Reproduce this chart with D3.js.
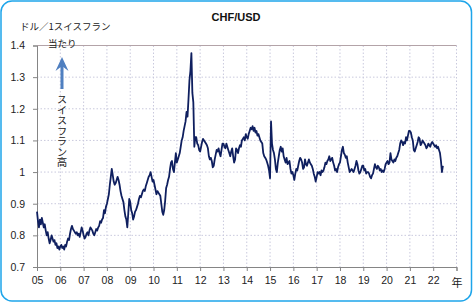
<!DOCTYPE html>
<html>
<head>
<meta charset="utf-8">
<script src="https://cdn.jsdelivr.net/npm/d3@7"></script>
<style>
  body { margin: 0; background: #fff; }
  svg text { font-family: "Liberation Sans", Arial, sans-serif; }
  .jp { font-family: "Noto Sans CJK JP", sans-serif; }
</style>
</head>
<body>
<div id="chart"></div>
<script>
// USD per 1 CHF, semi-monthly readings (24 per year)
const v2005 = [0.875,0.845,0.825,0.850,0.835,0.855,0.840,0.825,0.835,0.815,0.800,0.810,0.790,0.775,0.785,0.800,0.790,0.780,0.785,0.770,0.775,0.760,0.765,0.755];
const v2006 = [0.765,0.770,0.760,0.765,0.755,0.770,0.765,0.780,0.790,0.785,0.805,0.820,0.830,0.820,0.815,0.810,0.805,0.810,0.800,0.805,0.795,0.810,0.825,0.815];
const v2007 = [0.800,0.790,0.795,0.805,0.810,0.800,0.815,0.825,0.820,0.815,0.805,0.800,0.810,0.820,0.815,0.825,0.830,0.845,0.840,0.850,0.855,0.880,0.870,0.890];
const v2008 = [0.900,0.915,0.930,0.960,0.985,1.010,0.990,0.970,0.960,0.965,0.975,0.985,0.975,0.960,0.940,0.925,0.915,0.905,0.880,0.860,0.850,0.825,0.870,0.915];
const v2009 = [0.905,0.880,0.870,0.850,0.860,0.875,0.880,0.890,0.900,0.915,0.925,0.920,0.930,0.940,0.945,0.940,0.955,0.965,0.975,0.985,0.990,1.000,0.985,0.970];
const v2010 = [0.975,0.960,0.945,0.930,0.940,0.935,0.930,0.925,0.900,0.875,0.865,0.880,0.910,0.950,0.960,0.975,0.985,1.010,1.030,1.035,1.010,1.000,1.030,1.060];
const v2011 = [1.030,1.040,1.050,1.060,1.080,1.100,1.110,1.130,1.145,1.160,1.190,1.175,1.230,1.290,1.320,1.376,1.250,1.220,1.080,1.110,1.110,1.090,1.085,1.070];
const v2012 = [1.065,1.080,1.095,1.105,1.100,1.095,1.090,1.085,1.075,1.050,1.040,1.045,1.035,1.015,1.020,1.040,1.055,1.070,1.065,1.075,1.060,1.050,1.070,1.090];
const v2013 = [1.090,1.080,1.075,1.090,1.080,1.070,1.060,1.050,1.065,1.075,1.050,1.030,1.040,1.075,1.070,1.060,1.075,1.085,1.080,1.100,1.105,1.110,1.100,1.120];
const v2014 = [1.110,1.105,1.120,1.130,1.140,1.135,1.145,1.130,1.140,1.125,1.130,1.115,1.120,1.110,1.100,1.095,1.090,1.060,1.050,1.045,1.040,1.030,1.020,1.005];
const v2015 = [0.980,1.160,1.090,1.070,1.060,1.040,1.010,1.000,1.030,1.050,1.070,1.080,1.065,1.075,1.050,1.040,1.030,1.045,1.025,1.030,1.035,1.010,0.995,1.000];
const v2016 = [0.990,0.975,0.995,1.010,1.005,1.020,1.035,1.045,1.040,1.030,1.010,1.015,1.040,1.025,1.020,1.030,1.040,1.030,1.025,1.020,1.010,0.995,0.985,0.970];
const v2017 = [0.985,1.000,0.995,1.000,0.990,1.005,1.000,1.005,1.015,1.030,1.025,1.035,1.040,1.050,1.035,1.040,1.045,1.030,1.020,1.005,1.010,1.000,1.015,1.025];
const v2018 = [1.030,1.050,1.070,1.080,1.060,1.055,1.045,1.050,1.030,1.015,1.000,1.005,1.010,1.005,1.000,1.010,1.020,1.035,1.025,1.005,0.995,1.000,1.010,1.020];
const v2019 = [1.020,1.005,1.010,0.995,1.000,1.000,0.995,0.985,0.980,0.990,0.995,1.010,1.025,1.015,1.010,1.020,1.015,1.005,1.010,1.000,1.005,1.000,1.010,1.025];
const v2020 = [1.030,1.035,1.025,1.030,1.060,1.040,1.035,1.030,1.040,1.035,1.045,1.050,1.060,1.070,1.090,1.100,1.095,1.085,1.095,1.090,1.110,1.100,1.115,1.130];
const v2021 = [1.130,1.125,1.110,1.100,1.070,1.065,1.075,1.085,1.095,1.110,1.105,1.085,1.090,1.100,1.095,1.090,1.085,1.075,1.080,1.090,1.085,1.080,1.090,1.095];
const v2022 = [1.090,1.085,1.080,1.085,1.075,1.080,1.070,1.060,1.035,1.000,1.020];

const years = [2005,2006,2007,2008,2009,2010,2011,2012,2013,2014,2015,2016,2017,2018,2019,2020,2021,2022];
const series = [v2005,v2006,v2007,v2008,v2009,v2010,v2011,v2012,v2013,v2014,v2015,v2016,v2017,v2018,v2019,v2020,v2021,v2022];
const yTicks = [0.7,0.8,0.9,1.0,1.1,1.2,1.3,1.4];
const xTicks = d3.range(2005, 2024);

const data = [];
series.forEach((arr, k) => arr.forEach((v, i) => data.push({ t: years[k] + i / 24, v })));

const W = 473, H = 303;
const svg = d3.select('#chart').append('svg').attr('width', W).attr('height', H);

// outer frame
svg.append('rect')
  .attr('x', 1).attr('y', 1).attr('width', W - 2.5).attr('height', H - 3)
  .attr('rx', 11).attr('fill', '#fff')
  .attr('stroke', '#1ea5ea').attr('stroke-width', 1.5);

const x = d3.scaleLinear().domain([2005, 2023]).range([37, 456.5]);
const y = d3.scaleLinear().domain([0.7, 1.4]).range([267, 45.5]);

// gridlines
svg.append('g').selectAll('line').data(xTicks.slice(1)).join('line')
  .attr('x1', d => x(d)).attr('x2', d => x(d))
  .attr('y1', y(1.4)).attr('y2', y(0.7))
  .attr('stroke', '#c9c9dd').attr('stroke-dasharray', '1.5,2');
svg.append('g').selectAll('line').data(yTicks.slice(1, -1)).join('line')
  .attr('x1', x(2005)).attr('x2', x(2023))
  .attr('y1', d => y(d)).attr('y2', d => y(d))
  .attr('stroke', '#c9c9dd').attr('stroke-dasharray', '1.5,2');
// plot area top border
svg.append('line')
  .attr('x1', x(2005)).attr('x2', x(2023))
  .attr('y1', y(1.4)).attr('y2', y(1.4))
  .attr('stroke', '#b3a3a8');

// axes
const yAxis = svg.append('g').attr('transform', `translate(${x(2005)},0)`)
  .call(d3.axisLeft(y).tickValues(yTicks).tickSize(4).tickPadding(8)
    .tickFormat(d => String(+d.toFixed(1))));
const xAxis = svg.append('g').attr('transform', `translate(0,${y(0.7)})`)
  .call(d3.axisBottom(x).tickValues(xTicks).tickSize(4).tickPadding(6)
    .tickFormat(d => d === 2023 ? '' : String(d).slice(2)));
[yAxis, xAxis].forEach(g => {
  g.select('.domain').attr('stroke', '#858585');
  g.selectAll('.tick line').attr('stroke', '#858585');
  g.selectAll('text').attr('fill', '#222').style('font-size', '10.5px');
});

// series line
svg.append('path').datum(data)
  .attr('fill', 'none')
  .attr('stroke', '#0f1f5f')
  .attr('stroke-width', 1.8)
  .attr('stroke-linejoin', 'round')
  .attr('d', d3.line().x(d => x(d.t)).y(d => y(d.v)));

// title
svg.append('text').attr('x', 236).attr('y', 21)
  .attr('text-anchor', 'middle').attr('font-weight', 'bold')
  .style('font-size', '11px').attr('fill', '#111').text('CHF/USD');

// unit label
svg.append('text').attr('class', 'jp').attr('x', 20).attr('y', 30)
  .style('font-size', '9.5px').attr('fill', '#222').text('ドル／1スイスフラン');
svg.append('text').attr('class', 'jp').attr('x', 48).attr('y', 47)
  .style('font-size', '9.5px').attr('fill', '#222').text('当たり');

// arrow
svg.append('line').attr('x1', 62).attr('x2', 62).attr('y1', 89).attr('y2', 66)
  .attr('stroke', '#4f7fc0').attr('stroke-width', 3);
svg.append('path').attr('d', 'M55.5,71 L62,57 L68.5,71 L62,66 Z')
  .attr('fill', '#4f7fc0');

// vertical caption
svg.append('text').attr('class', 'jp').attr('x', 62).attr('y', 94)
  .style('writing-mode', 'vertical-rl').style('font-size', '10.5px')
  .attr('fill', '#222').text('スイスフラン高');

// year label
svg.append('text').attr('class', 'jp').attr('x', 457).attr('y', 287)
  .attr('text-anchor', 'middle').style('font-size', '11px')
  .attr('fill', '#222').text('年');
</script>
</body>
</html>
